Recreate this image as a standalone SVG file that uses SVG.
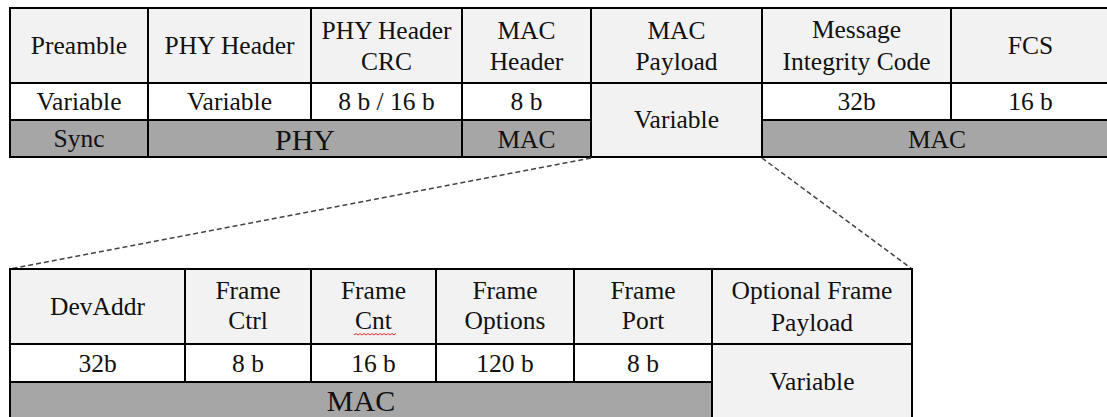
<svg xmlns="http://www.w3.org/2000/svg" width="1107" height="417" viewBox="0 0 1107 417">
<style>
.hd{fill:#f2f2f2;stroke:#000;stroke-width:2}
.vl{fill:#ffffff;stroke:#000;stroke-width:2}
.gr{fill:#a6a6a6;stroke:#000;stroke-width:2}
text{font-family:"Liberation Serif","Times New Roman",serif;font-size:25.5px;fill:#111;text-anchor:middle}
.big{font-size:30px}
.dash{stroke:#444;stroke-width:1.5;stroke-dasharray:5 3;fill:none}
</style>
<rect x="0" y="0" width="1107" height="417" fill="#fff"/>
<g id="top-table">
  <g id="preamble"><rect class="hd" x="10" y="8" width="138" height="75"/><text x="79" y="54">Preamble</text>
    <rect class="vl" x="10" y="83" width="138" height="37"/><text x="79" y="110">Variable</text></g>
  <g id="phy-header"><rect class="hd" x="148" y="8" width="163" height="75"/><text x="229.5" y="54">PHY Header</text>
    <rect class="vl" x="148" y="83" width="163" height="37"/><text x="229.5" y="110">Variable</text></g>
  <g id="phy-header-crc"><rect class="hd" x="311" y="8" width="151" height="75"/><text x="386.5" y="39">PHY Header</text><text x="386.5" y="70">CRC</text>
    <rect class="vl" x="311" y="83" width="151" height="37"/><text x="386.5" y="110">8 b / 16 b</text></g>
  <g id="mac-header"><rect class="hd" x="462" y="8" width="129" height="75"/><text x="526.5" y="39">MAC</text><text x="526.5" y="70">Header</text>
    <rect class="vl" x="462" y="83" width="129" height="37"/><text x="526.5" y="110">8 b</text></g>
  <g id="mac-payload"><rect class="hd" x="591" y="8" width="171" height="75"/><text x="676.5" y="39">MAC</text><text x="676.5" y="70">Payload</text>
    <rect class="hd" x="591" y="83" width="171" height="74"/><text x="676.5" y="128">Variable</text></g>
  <g id="mic"><rect class="hd" x="762" y="8" width="189" height="75"/><text x="856.5" y="38">Message</text><text x="856.5" y="70">Integrity Code</text>
    <rect class="vl" x="762" y="83" width="189" height="37"/><text x="856.5" y="110">32b</text></g>
  <g id="fcs"><rect class="hd" x="951" y="8" width="170" height="75"/><text x="1030.5" y="54">FCS</text>
    <rect class="vl" x="951" y="83" width="170" height="37"/><text x="1030.5" y="110">16 b</text></g>
  <g id="sync"><rect class="gr" x="10" y="120" width="138" height="37"/><text x="79" y="147">Sync</text></g>
  <g id="phy"><rect class="gr" x="148" y="120" width="314" height="37"/><text class="big" x="305" y="150">PHY</text></g>
  <g id="mac1"><rect class="gr" x="462" y="120" width="129" height="37"/><text x="526.5" y="148">MAC</text></g>
  <g id="mac2"><rect class="gr" x="762" y="120" width="359" height="37"/><text x="937" y="148">MAC</text></g>
</g>
<g id="connectors">
  <line class="dash" x1="591" y1="158" x2="10" y2="269"/>
  <line class="dash" x1="762" y1="158" x2="912" y2="269"/>
</g>
<g id="bottom-table">
  <g id="devaddr"><rect class="hd" x="10" y="269" width="175" height="75"/><text x="97.5" y="315">DevAddr</text>
    <rect class="vl" x="10" y="344" width="175" height="38"/><text x="97.5" y="372">32b</text></g>
  <g id="frame-ctrl"><rect class="hd" x="185" y="269" width="126" height="75"/><text x="248" y="299">Frame</text><text x="248" y="329">Ctrl</text>
    <rect class="vl" x="185" y="344" width="126" height="38"/><text x="248" y="372">8 b</text></g>
  <g id="frame-cnt"><rect class="hd" x="311" y="269" width="125" height="75"/><text x="373.5" y="299">Frame</text><text x="373.5" y="329">Cnt</text>
    <path d="M354 335 l2 -1.5 l2 1.5 l2 -1.5 l2 1.5 l2 -1.5 l2 1.5 l2 -1.5 l2 1.5 l2 -1.5 l2 1.5 l2 -1.5 l2 1.5 l2 -1.5 l2 1.5 l2 -1.5 l2 1.5 l2 -1.5 l2 1.5 l2 -1.5 l2 1.5 l2 -1.5" fill="none" stroke="#e03030" stroke-width="1"/>
    <rect class="vl" x="311" y="344" width="125" height="38"/><text x="373.5" y="372">16 b</text></g>
  <g id="frame-options"><rect class="hd" x="436" y="269" width="138" height="75"/><text x="505" y="299">Frame</text><text x="505" y="329">Options</text>
    <rect class="vl" x="436" y="344" width="138" height="38"/><text x="505" y="372">120 b</text></g>
  <g id="frame-port"><rect class="hd" x="574" y="269" width="138" height="75"/><text x="643" y="299">Frame</text><text x="643" y="329">Port</text>
    <rect class="vl" x="574" y="344" width="138" height="38"/><text x="643" y="372">8 b</text></g>
  <g id="optional-payload"><rect class="hd" x="712" y="269" width="200" height="75"/><text x="812" y="299">Optional Frame</text><text x="812" y="331">Payload</text>
    <rect class="hd" x="712" y="344" width="200" height="80"/><text x="812" y="390">Variable</text></g>
  <g id="mac3"><rect class="gr" x="10" y="382" width="702" height="42"/><text class="big" x="361" y="411">MAC</text></g>
</g>
</svg>
